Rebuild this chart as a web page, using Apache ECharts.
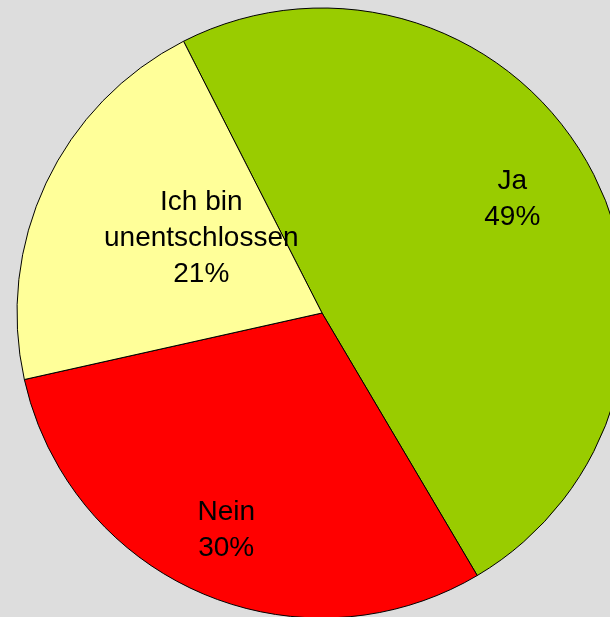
<!DOCTYPE html>
<html>
<head>
<meta charset="utf-8">
<style>
html,body{margin:0;padding:0;background:#dddddd;}
#chart{width:610px;height:617px;}
</style>
<script src="https://cdn.jsdelivr.net/npm/echarts@6/dist/echarts.min.js"></script>
</head>
<body>
<div id="chart"></div>
<script>
var categories = ['Ja', 'Nein', 'Ich bin\nunentschlossen'];
var values = [49, 30, 21];
var colors = ['#99cc00', '#ff0000', '#ffff99'];
var labelShift = [[54, -39], [-34, 75], [20, -9]];

var chart = echarts.init(document.getElementById('chart'), null, {renderer: 'canvas'});
chart.setOption({
  backgroundColor: '#dddddd',
  animation: false,
  series: [{
    type: 'pie',
    center: [322, 313],
    radius: [0, 305],
    startAngle: 117,
    clockwise: true,
    silent: true,
    data: categories.map(function (c, i) {
      return {name: c, value: values[i], itemStyle: {color: colors[i]}};
    }),
    itemStyle: {borderColor: '#000000', borderWidth: 1},
    label: {
      position: 'inside',
      formatter: function (p) { return p.name + '\n' + p.value + '%'; },
      color: '#000000',
      fontFamily: 'Liberation Sans, Arial, sans-serif',
      fontSize: 28,
      lineHeight: 36,
      align: 'center'
    },
    labelLine: {show: false},
    labelLayout: function (p) {
      return {dx: labelShift[p.dataIndex][0], dy: labelShift[p.dataIndex][1]};
    }
  }]
});
</script>
</body>
</html>
